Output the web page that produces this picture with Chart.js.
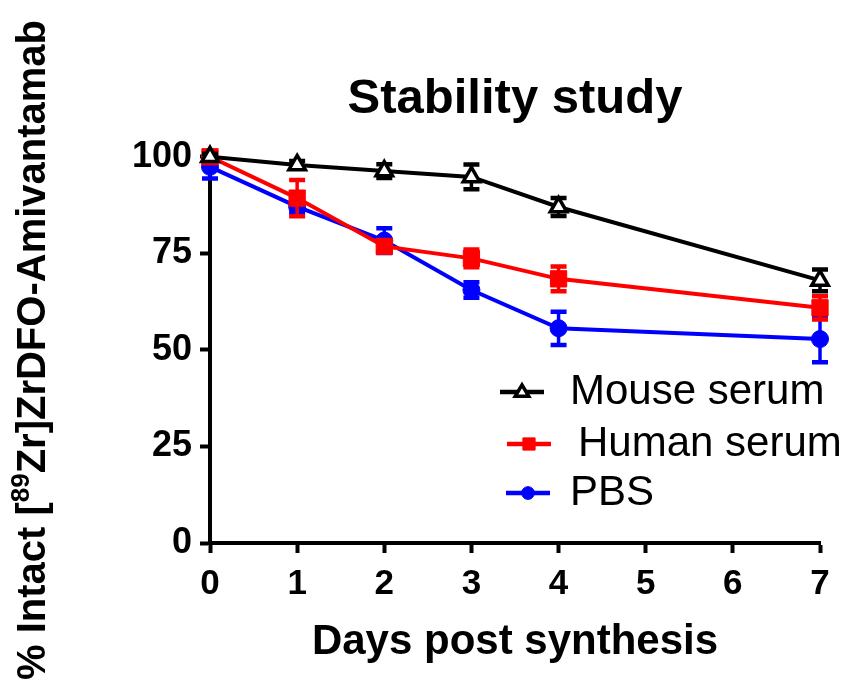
<!DOCTYPE html>
<html><head><meta charset="utf-8">
<script src="https://cdn.jsdelivr.net/npm/chart.js@4"></script>
<style>html,body{margin:0;padding:0;background:#fff}canvas{display:block}</style>
</head><body>
<canvas id="c" width="847" height="691"></canvas>
<script>
const days = [0, 1, 2, 3, 4, 7];
const xTicks = [0, 1, 2, 3, 4, 5, 6, 7];
const yTicks = [0, 25, 50, 75, 100];
const seriesNames = ['Mouse serum', 'Human serum', 'PBS'];
const mouseMean = [100, 97.9, 96.3, 94.8, 87.0, 68.0];
const mouseErr  = [0.8, 1.0, 1.8, 3.2, 2.3, 2.8];
const humanMean = [100, 89.3, 76.8, 73.7, 68.4, 60.9];
const humanErr  = [0.8, 4.7, 1.5, 2.3, 3.2, 3.0];
const pbsMean   = [97.4, 87.1, 78.3, 65.5, 55.6, 52.8];
const pbsErr    = [3.0, 1.5, 3.2, 2.0, 4.3, 6.0];
const chartTitle = 'Stability study';
const xTitle = 'Days post synthesis';
const yTitleParts = ['% Intact [', '89', 'Zr]ZrDFO-Amivantamab'];

const FONT = "'Liberation Sans', Arial, sans-serif";
const colors = ['#000000', '#ff0000', '#0000ff'];
const styles = ['triangle', 'rect', 'circle'];
const radii = [9.5, 11.5, 8.5];
const means = [mouseMean, humanMean, pbsMean];
const errs = [mouseErr, humanErr, pbsErr];

const datasets = seriesNames.map((name, i) => ({
  label: name,
  data: days.map((d, j) => ({ x: d, y: means[i][j] })),
  errors: errs[i],
  borderColor: colors[i],
  backgroundColor: i === 0 ? '#ffffff' : colors[i],
  pointBorderColor: colors[i],
  pointBackgroundColor: i === 0 ? '#ffffff' : colors[i],
  pointStyle: styles[i],
  pointRadius: radii[i],
  pointBorderWidth: i === 0 ? 3.5 : 1,
  borderWidth: 4,
  tension: 0,
  clip: false
}));

function drawMarker(ctx, style, x, y, r, color, fill, bw) {
  ctx.save();
  ctx.strokeStyle = color; ctx.fillStyle = fill; ctx.lineWidth = bw;
  ctx.beginPath();
  if (style === 'triangle') {
    const a = r * 1.0;
    ctx.moveTo(x, y - a);
    ctx.lineTo(x + a * 0.95, y + a * 0.6);
    ctx.lineTo(x - a * 0.95, y + a * 0.6);
    ctx.closePath();
  } else if (style === 'rect') {
    const s = Math.SQRT1_2 * r;
    ctx.rect(x - s, y - s, 2 * s, 2 * s);
  } else {
    ctx.arc(x, y, r, 0, Math.PI * 2);
  }
  ctx.fill(); ctx.stroke();
  ctx.restore();
}

const errorBars = {
  id: 'errorBars',
  beforeDatasetDraw(chart, args) {
    const ds = chart.data.datasets[args.index];
    const ctx = chart.ctx, xs = chart.scales.x, ys = chart.scales.y;
    ctx.save();
    ctx.strokeStyle = ds.borderColor;
    ds.data.forEach((p, j) => {
      const e = ds.errors[j];
      const px = xs.getPixelForValue(p.x);
      const top = ys.getPixelForValue(p.y + e);
      const bot = ys.getPixelForValue(p.y - e);
      ctx.lineWidth = 3.5;
      ctx.beginPath(); ctx.moveTo(px, top); ctx.lineTo(px, bot); ctx.stroke();
      ctx.lineWidth = 4.5;
      ctx.beginPath();
      ctx.moveTo(px - 8, top); ctx.lineTo(px + 8, top);
      ctx.moveTo(px - 8, bot); ctx.lineTo(px + 8, bot);
      ctx.stroke();
    });
    ctx.restore();
  }
};

const yTitlePlugin = {
  id: 'yTitlePlugin',
  afterDraw(chart) {
    const ctx = chart.ctx;
    const mainFont = 'bold 40px ' + FONT;
    const supFont = 'bold 26px ' + FONT;
    ctx.save();
    ctx.font = mainFont;
    const w0 = ctx.measureText(yTitleParts[0]).width;
    const w2 = ctx.measureText(yTitleParts[2]).width;
    ctx.font = supFont;
    const w1 = ctx.measureText(yTitleParts[1]).width;
    const total = w0 + w1 + w2;
    ctx.translate(45, 350);
    ctx.rotate(-Math.PI / 2);
    ctx.fillStyle = '#000';
    ctx.textBaseline = 'alphabetic';
    ctx.textAlign = 'left';
    let x = -total / 2;
    ctx.font = mainFont; ctx.fillText(yTitleParts[0], x, 0); x += w0;
    ctx.font = supFont; ctx.fillText(yTitleParts[1], x, -16); x += w1;
    ctx.font = mainFont; ctx.fillText(yTitleParts[2], x, 0);
    ctx.restore();
  }
};

const legendPlugin = {
  id: 'customLegend',
  afterDraw(chart) {
    const ctx = chart.ctx;
    const rows = [
      { lx: 500, ty: 392, tx: 570 },
      { lx: 507, ty: 444, tx: 578 },
      { lx: 506, ty: 493, tx: 570 }
    ];
    chart.data.datasets.forEach((ds, i) => {
      const r = rows[i];
      ctx.save();
      ctx.strokeStyle = ds.borderColor;
      ctx.lineWidth = 4.5;
      ctx.beginPath(); ctx.moveTo(r.lx, r.ty); ctx.lineTo(r.lx + 44, r.ty); ctx.stroke();
      drawMarker(ctx, ds.pointStyle, r.lx + 22, r.ty, ds.pointRadius * 0.75, ds.pointBorderColor, ds.pointBackgroundColor, ds.pointBorderWidth);
      ctx.fillStyle = '#000';
      ctx.font = '42px ' + FONT;
      ctx.textBaseline = 'middle';
      ctx.textAlign = 'left';
      ctx.fillText(ds.label, r.tx, r.ty);
      ctx.restore();
    });
  }
};

new Chart(document.getElementById('c'), {
  type: 'line',
  data: { datasets },
  plugins: [errorBars, yTitlePlugin, legendPlugin],
  options: {
    responsive: false,
    animation: false,
    devicePixelRatio: 1,
    layout: { padding: { left: 0, right: 27, top: 0, bottom: 0 } },
    plugins: {
      legend: { display: false },
      tooltip: { enabled: false },
      title: {
        display: true, text: chartTitle, color: '#000', fullSize: false,
        font: { family: FONT, size: 49, weight: 'bold', lineHeight: 1.2 },
        padding: { top: 70, bottom: 28 }
      }
    },
    scales: {
      x: {
        type: 'linear', min: 0, max: 7,
        afterBuildTicks: s => { s.ticks = xTicks.map(v => ({ value: v })); },
        afterFit: s => { s.height = 148; },
        border: { display: true, color: '#000', width: 4 },
        grid: { display: true, drawOnChartArea: false, drawTicks: true, tickLength: 10, tickWidth: 4, tickColor: '#000' },
        ticks: { color: '#000', padding: 10, font: { family: FONT, size: 35, weight: 'bold' } },
        title: { display: true, text: xTitle, color: '#000', font: { family: FONT, size: 42, weight: 'bold' }, padding: { top: 0, bottom: 23 } }
      },
      y: {
        type: 'linear', min: 0, max: 100,
        afterBuildTicks: s => { s.ticks = yTicks.map(v => ({ value: v })); },
        afterFit: s => { s.width = 210; },
        border: { display: true, color: '#000', width: 4 },
        grid: { display: true, drawOnChartArea: false, drawTicks: true, tickLength: 10, tickWidth: 4, tickColor: '#000' },
        ticks: { color: '#000', padding: 8, font: { family: FONT, size: 36, weight: 'bold' } },
        title: { display: false }
      }
    }
  }
});
</script>
</body></html>
